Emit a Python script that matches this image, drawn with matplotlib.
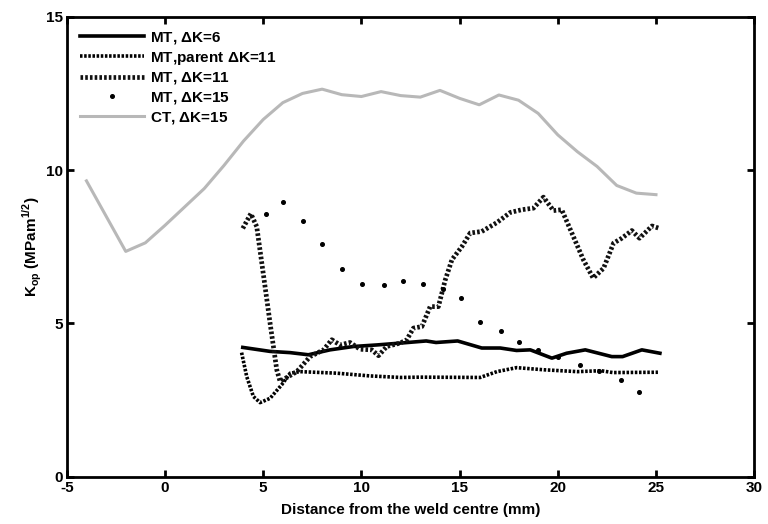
import numpy as np
import matplotlib.pyplot as plt

plt.rcParams['font.family'] = 'Liberation Sans'
plt.rcParams['font.weight'] = 'bold'
plt.rcParams['mathtext.fontset'] = 'custom'
plt.rcParams['mathtext.rm'] = 'Liberation Sans:bold'
plt.rcParams['mathtext.bf'] = 'Liberation Sans:bold'
plt.rcParams['axes.unicode_minus'] = False

# MT, dK=6
mt6_x = [3.96, 5.35, 6.37, 7.3, 8.4, 9.6, 10.78, 11.97, 13.3, 13.8, 14.9, 16.13, 17.07,
         17.9, 18.6, 19.7, 20.45, 21.4, 22.75, 23.3, 24.28, 25.2]
mt6_y = [4.22, 4.09, 4.05, 3.98, 4.14, 4.25, 4.3, 4.36, 4.43, 4.38, 4.43, 4.2, 4.2,
         4.12, 4.14, 3.87, 4.03, 4.14, 3.92, 3.92, 4.14, 4.03]

# MT, parent dK=11
par_x = [3.9, 4.16, 4.5, 4.84, 5.35, 5.94, 6.37, 6.88, 8.74, 10.44, 12.0, 13.0, 16.05,
         16.9, 17.9, 19.3, 21.0, 22.2, 22.8, 25.1]
par_y = [4.05, 3.27, 2.62, 2.42, 2.56, 3.0, 3.38, 3.43, 3.38, 3.29, 3.24, 3.25, 3.24,
         3.43, 3.56, 3.49, 3.43, 3.46, 3.4, 3.41]

# MT, dK=11
mt11_x = [3.96, 4.37, 4.67, 5.0, 5.35, 5.69, 5.86, 6.71, 7.39, 8.07, 8.49, 8.91, 9.42,
          9.93, 10.53, 10.87, 11.29, 11.97, 12.31, 12.65, 13.08, 13.5, 13.92, 14.27,
          14.61, 15.12, 15.54, 16.13, 16.9, 17.58, 18.17, 18.76, 19.27, 19.78, 20.2,
          20.79, 21.3, 21.8, 22.33, 22.84, 23.26, 23.77, 24.16, 24.8, 25.13]
mt11_y = [8.1, 8.58, 8.16, 6.64, 5.01, 3.49, 3.11, 3.43, 3.92, 4.14, 4.47, 4.3, 4.38,
          4.16, 4.14, 3.95, 4.25, 4.36, 4.47, 4.85, 4.9, 5.55, 5.55, 6.42,
          7.08, 7.51, 7.95, 8.0, 8.29, 8.62, 8.71, 8.76, 9.12, 8.68, 8.71,
          7.84, 7.08, 6.48, 6.8, 7.62, 7.78, 8.03, 7.78, 8.18, 8.11]

# MT, dK=15
mt15_x = [5.13, 6.0, 7.03, 8.01, 9.02, 10.04, 11.14, 12.1, 13.16, 14.14, 15.08, 16.05,
          17.1, 18.0, 19.0, 20.0, 21.14, 22.1, 23.2, 24.16]
mt15_y = [8.58, 8.96, 8.35, 7.6, 6.78, 6.29, 6.26, 6.39, 6.29, 6.13, 5.83, 5.06,
          4.75, 4.39, 4.12, 3.9, 3.64, 3.45, 3.15, 2.76]

# CT, dK=15
ct_x = [-4, -2, -1, 0, 1, 2, 3, 4, 5, 6, 7, 8, 9, 10, 11, 12, 13, 14, 15, 16, 17, 18,
        19, 20, 21, 22, 23, 24, 25]
ct_y = [9.65, 7.35, 7.63, 8.2, 8.8, 9.4, 10.15, 10.95, 11.65, 12.2, 12.5, 12.64, 12.46,
        12.4, 12.56, 12.43, 12.38, 12.6, 12.34, 12.13, 12.45, 12.28, 11.85, 11.15, 10.6,
        10.12, 9.5, 9.25, 9.2]

fig = plt.figure(figsize=(7.68, 5.24), dpi=100)
ax = fig.add_axes([0.087, 0.09, 0.895, 0.878])

ax.plot(mt6_x, mt6_y, color='black', lw=2.6, label=r'MT, $\Delta$K=6')
ax.plot(par_x, par_y, color='black', lw=2.6, ls=(0, (0.7, 0.45)),
        label=r'MT,parent $\Delta$K=11')
ax.plot(mt11_x, mt11_y, color='#111111', lw=3.4, ls=(0, (0.55, 0.45)),
        label=r'MT, $\Delta$K=11')
ax.plot(mt15_x, mt15_y, ls='none', marker='o', ms=2.6, color='black',
        label=r'MT, $\Delta$K=15')
ax.plot(ct_x, ct_y, color='#b8b8b8', lw=2.2, label=r'CT, $\Delta$K=15')

ax.set_xlim(-5, 30)
ax.set_ylim(0, 15)
ax.set_xticks(np.arange(-5, 31, 5))
ax.set_yticks([0, 5, 10, 15])
ax.tick_params(direction='in', top=True, right=True, length=5, width=2,
               labelsize=11, pad=3)
for s in ax.spines.values():
    s.set_linewidth(2)

ax.set_xlabel('Distance from the weld centre (mm)', fontsize=11, fontweight='bold',
              labelpad=6)
ax.set_ylabel(r'K$_{\rm op}$ (MPam$^{\rm 1/2}$)', fontsize=11, fontweight='bold',
              labelpad=1)

ax.legend(loc='upper left', frameon=False, handlelength=4.2,
          handletextpad=0.4, labelspacing=0.25, borderaxespad=0.45,
          prop={'weight': 'bold', 'size': 11})

fig.savefig('out.png', dpi=100)
